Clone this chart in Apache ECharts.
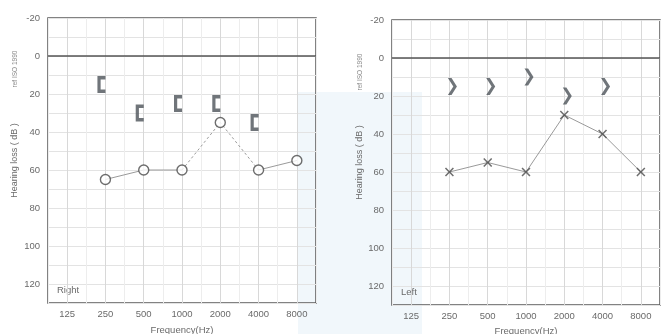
<!DOCTYPE html>
<html>
<head>
<meta charset="utf-8">
<script src="https://cdn.jsdelivr.net/npm/echarts@6/dist/echarts.min.js"></script>
<style>html,body{margin:0;padding:0;background:#fff}#c{width:662px;height:334px}</style>
</head>
<body>
<div id="c"></div>
<script>
// ---- data ----
const freqLabels = ['125', '250', '500', '1000', '2000', '4000', '8000'];
const rightAir  = [null, 65, 60, 60, 35, 60, 55];   // O
const rightBone = [null, 15, 30, 25, 25, 35, null]; // [
const leftAir   = [null, 60, 55, 60, 30, 40, 60];   // X
const leftBone  = [null, 15, 15, 10, 20, 15, null]; // >
const yTicks = [-20, 0, 20, 40, 60, 80, 100, 120];
const rightSolid1 = [1, 3];  // index range solid
const rightDashed = [3, 5];  // index range dashed
const rightSolid2 = [5, 6];

function pts(arr, from, to) {
  const out = [];
  arr.forEach((v, i) => { if (v !== null && (from === undefined || (i >= from && i <= to))) out.push([i, v]); });
  return out;
}

const chart = echarts.init(document.getElementById('c'), null, { renderer: 'canvas' });
const txt = '#6a6a6a';
const mark = '#4a4a4a';
const symC = '#4c5359';
const lineC = '#9a9a9a';
const FF = 'Liberation Sans';
const bracketPath = 'path://M9,0 L0,0 L0,17 L9,17 L9,13.6 L3.6,13.6 L3.6,3.4 L9,3.4 Z';
const chevronPath = 'path://M0,0 L4,0 L10,8.5 L4,17 L0,17 L6,8.5 Z';
const crossPath = 'path://M0,1.2 L1.2,0 L5,3.8 L8.8,0 L10,1.2 L6.2,5 L10,8.8 L8.8,10 L5,6.2 L1.2,10 L0,8.8 L3.8,5 Z';

function xAxisFor(gi, gap) {
  return {
    gridIndex: gi, type: 'value', min: -0.5, max: 6.5, interval: 0.5,
    name: 'Frequency(Hz)', nameLocation: 'middle', nameGap: gap,
    nameTextStyle: { color: txt, fontSize: 9.5, fontFamily: FF },
    axisLine: { show: false }, axisTick: { show: false },
    axisLabel: {
      color: txt, fontSize: 9.5, fontFamily: FF, margin: 6,
      formatter: v => (Math.abs(v - Math.round(v)) < 1e-6 && v >= 0 && v <= 6) ? freqLabels[Math.round(v)] : ''
    },
    splitLine: { show: true, lineStyle: { color: ['#ededed', '#d8d8d8'], width: 1 } }
  };
}
function yAxisFor(gi, gap, margin) {
  return {
    gridIndex: gi, type: 'value', inverse: true, min: -20, max: 130, interval: 10,
    name: 'Hearing loss ( dB )', nameLocation: 'middle', nameGap: gap,
    nameTextStyle: { color: txt, fontSize: 9, fontFamily: FF },
    axisLine: { show: false }, axisTick: { show: false },
    axisLabel: {
      color: txt, fontSize: 9.5, fontFamily: FF, margin: margin,
      formatter: v => yTicks.indexOf(v) >= 0 ? String(v) : ''
    },
    splitLine: { show: true, lineStyle: { color: '#e3e3e3', width: 1 } }
  };
}

function zeroLine(gi) {
  return {
    type: 'line', xAxisIndex: gi, yAxisIndex: gi, data: [], silent: true,
    markLine: { silent: true, symbol: 'none', label: { show: false },
      lineStyle: { color: '#555', width: 1.5, type: 'solid' }, data: [{ yAxis: 0 }] }
  };
}
function lineSeg(gi, data, dashed) {
  return { type: 'line', xAxisIndex: gi, yAxisIndex: gi, data: data, showSymbol: false, symbol: 'none',
    lineStyle: { color: lineC, width: 1, type: dashed ? [2.5, 2.5] : 'solid' }, z: 2, silent: true };
}
function scatter(gi, data, symbol, size, offset, style) {
  return { type: 'scatter', xAxisIndex: gi, yAxisIndex: gi, data: data, symbol: symbol, symbolSize: size,
    symbolOffset: offset, itemStyle: style, z: 5, silent: true };
}

const option = {
  backgroundColor: '#ffffff',
  animation: false,
  grid: [
    { left: 48, right: 346, top: 18, bottom: 31, show: true, borderColor: '#5a5a5a', borderWidth: 1.5, backgroundColor: 'transparent', containLabel: false, outerBoundsMode: 'none' },
    { left: 392, right: 2, top: 20, bottom: 29, show: true, borderColor: '#5a5a5a', borderWidth: 1.5, backgroundColor: 'transparent', containLabel: false, outerBoundsMode: 'none' }
  ],
  xAxis: [xAxisFor(0, 22), xAxisFor(1, 20)],
  yAxis: [yAxisFor(0, 29, 8), yAxisFor(1, 28, 8)],
  graphic: [
    { type: 'rect', z: -10, silent: true, shape: { x: 298, y: 92, width: 124, height: 242 }, style: { fill: 'rgba(205,225,242,0.28)' } },
    { type: 'text', left: 57, top: 285, style: { text: 'Right', fill: txt, fontSize: 9.5, fontFamily: FF } },
    { type: 'text', left: 401, top: 287, style: { text: 'Left', fill: txt, fontSize: 9.5, fontFamily: FF } },
    { type: 'text', x: 15, y: 69, rotation: Math.PI / 2, style: { text: 'ref ISO 1990', fill: '#888', fontSize: 6.5, fontFamily: FF, align: 'center', verticalAlign: 'middle' } },
    { type: 'text', x: 360, y: 72, rotation: Math.PI / 2, style: { text: 'ref ISO 1990', fill: '#888', fontSize: 6.5, fontFamily: FF, align: 'center', verticalAlign: 'middle' } }
  ],
  series: [
    zeroLine(0), zeroLine(1),
    lineSeg(0, pts(rightAir, rightSolid1[0], rightSolid1[1]), false),
    lineSeg(0, pts(rightAir, rightDashed[0], rightDashed[1]), true),
    lineSeg(0, pts(rightAir, rightSolid2[0], rightSolid2[1]), false),
    scatter(0, pts(rightAir), 'circle', 10, [0, 0], { color: '#fff', borderColor: mark, borderWidth: 1.4 }),
    scatter(0, pts(rightBone), bracketPath, [8, 17], [-4, 0], { color: symC }),
    lineSeg(1, pts(leftAir), false),
    scatter(1, pts(leftAir), crossPath, 9, [0, 0], { color: mark }),
    scatter(1, pts(leftBone), chevronPath, [9, 17], [3, 0], { color: symC })
  ]
};
chart.setOption(option);
</script>
</body>
</html>
